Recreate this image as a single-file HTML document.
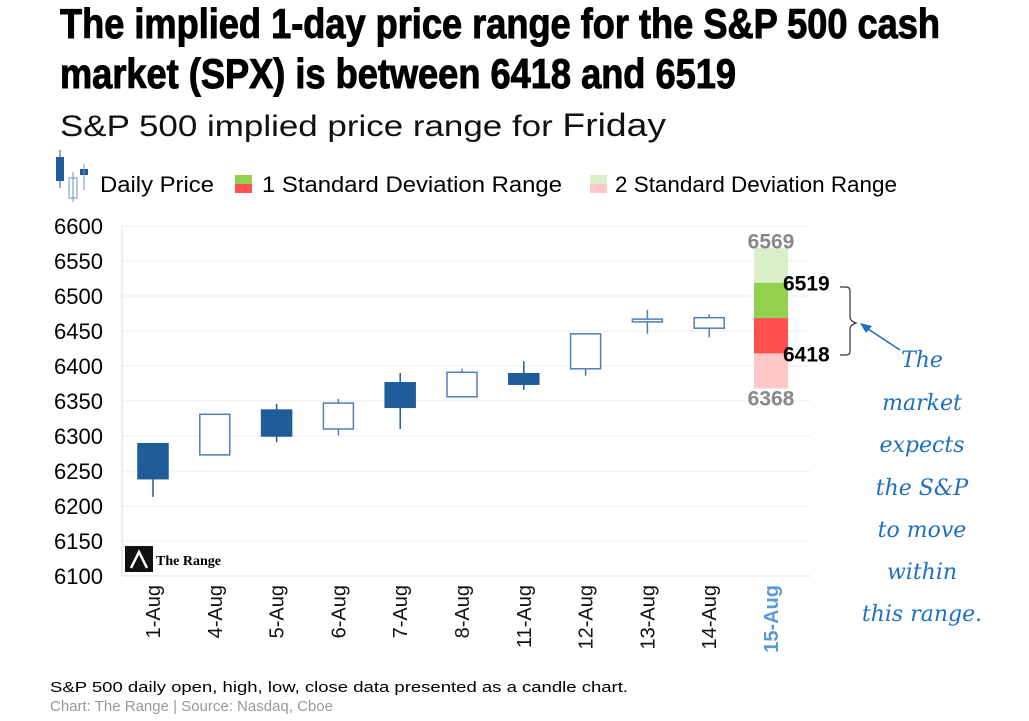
<!DOCTYPE html>
<html><head><meta charset="utf-8"><style>
body{margin:0;width:1029px;height:721px;background:#fff;overflow:hidden;font-family:"Liberation Sans",sans-serif;}
svg{position:absolute;left:0;top:0}
</style></head><body>
<svg width="1029" height="721">
<text x="60" y="38" font-family="Liberation Sans Narrow, Liberation Sans, sans-serif" font-weight="bold" font-size="42" stroke="#000" stroke-width="1" textLength="880" lengthAdjust="spacingAndGlyphs">The implied 1-day price range for the S&amp;P 500 cash</text>
<text x="60" y="88" font-family="Liberation Sans Narrow, Liberation Sans, sans-serif" font-weight="bold" font-size="42" stroke="#000" stroke-width="1" textLength="676" lengthAdjust="spacingAndGlyphs">market (SPX) is between 6418 and 6519</text>
<text x="60" y="136" font-size="30" fill="#111" textLength="606" lengthAdjust="spacingAndGlyphs">S&amp;P 500 implied price range for <tspan font-size="32">Friday</tspan></text>
<g>
<rect x="56" y="157" width="8" height="24" fill="#1f5c99"/><line x1="60" y1="150" x2="60" y2="188" stroke="#1f5c99"/>
<rect x="69" y="178" width="8" height="20" fill="#fff" stroke="#6a93c0"/><line x1="73" y1="172" x2="73" y2="202" stroke="#6a93c0"/>
<rect x="80" y="169" width="8" height="6" fill="#1f5c99"/><line x1="84" y1="164" x2="84" y2="190" stroke="#6a93c0"/>
<text x="100" y="192" font-size="22" textLength="114" lengthAdjust="spacingAndGlyphs">Daily Price</text>
<rect x="235" y="175" width="17" height="9" fill="#92d050"/><rect x="235" y="184" width="17" height="9" fill="#ff5050"/>
<text x="262" y="192" font-size="22" textLength="300" lengthAdjust="spacingAndGlyphs">1 Standard Deviation Range</text>
<rect x="590" y="175" width="17" height="9" fill="#d8efc8"/><rect x="590" y="184" width="17" height="9" fill="#ffc7c7"/>
<text x="615" y="192" font-size="22" textLength="282" lengthAdjust="spacingAndGlyphs">2 Standard Deviation Range</text>
</g>
<g id="grid"></g><g id="yaxis"></g><g id="xaxis"></g><g id="candles"></g><g id="range"></g>
<g>
<rect x="125" y="546" width="28" height="26" fill="#111"/><path d="M131 568 L139 552 L147 568" stroke="#fff" stroke-width="2.5" fill="none"/>
<text x="156" y="565" font-family="Liberation Serif,serif" font-weight="bold" font-size="14">The Range</text></g>
<path d="M840 287 h6 q4 0 4 4 v26 q0 4 6 6 q-6 2 -6 6 v22 q0 4 -4 4 h-6" stroke="#333" stroke-width="1.2" fill="none"/>
<line x1="900" y1="350" x2="865" y2="327" stroke="#1f6fc1" stroke-width="1.5"/>
<path d="M860 323 L872 326 L866 333 Z" fill="#1f6fc1"/>
<g font-family="DejaVu Serif,serif" font-style="italic" font-size="22" fill="#1f6fc1" text-anchor="middle">
<text x="922" y="367">The</text><text x="922" y="410">market</text><text x="922" y="452">expects</text><text x="922" y="495">the S&amp;P</text><text x="922" y="537">to move</text><text x="922" y="579">within</text><text x="922" y="621">this range.</text></g>
<text x="50" y="692" font-size="15" textLength="578" lengthAdjust="spacingAndGlyphs">S&amp;P 500 daily open, high, low, close data presented as a candle chart.</text>
<text x="50" y="711" font-size="15" fill="#999">Chart: The Range | Source: Nasdaq, Cboe</text>
</svg>
<script>
const categories=["1-Aug","4-Aug","5-Aug","6-Aug","7-Aug","8-Aug","11-Aug","12-Aug","13-Aug","14-Aug","15-Aug"];
const opens=[6289,6273,6337,6310,6376,6356,6389,6396,6463,6454];
const highs=[6289,6331,6346,6353,6390,6396,6407,6446,6480,6474];
const lows=[6213,6273,6291,6301,6310,6356,6366,6386,6446,6441];
const closes=[6239,6331,6300,6347,6341,6391,6374,6446,6467,6469];
const yTicks=[6100,6150,6200,6250,6300,6350,6400,6450,6500,6550,6600];
const rangeLevels=[6368,6418,6519,6569];
const NS="http://www.w3.org/2000/svg";
const y=v=>226+(6600-v)*0.7;
const x=i=>153+i*61.8;
function mk(p,t,a){const e=document.createElementNS(NS,t);for(const k in a)e.setAttribute(k,a[k]);document.getElementById(p).appendChild(e);return e;}
yTicks.forEach(v=>{
 const g=mk('grid','line',{x1:122,x2:810,y1:y(v),y2:y(v),stroke:v===6100?'#ddd':'#eee'});
 
 
 const t=mk('yaxis','text',{x:103,y:y(v)+8,'font-size':22,'text-anchor':'end'});t.textContent=v;
 
 
});
mk('grid','line',{x1:122,x2:122,y1:226,y2:576,stroke:'#ddd'});
categories.forEach((c,i)=>{
 const last=i===categories.length-1;
 const t=mk('xaxis','text',{transform:`translate(${x(i)+7},585) rotate(-90)`,'font-size':20,'text-anchor':'end',fill:last?'#5b9bd5':'#111','font-weight':last?'bold':'normal'});t.textContent=c;
 
 
});
opens.forEach((o,i)=>{
 const c=closes[i],down=c<o,cx=x(i),top=Math.max(o,c),bot=Math.min(o,c);
 const col=down?'#1f5c99':'#4f7fb5';
 const w=mk('candles','line',{x1:cx,x2:cx,y1:y(highs[i]),y2:y(lows[i]),stroke:col,'stroke-width':1.5});
 
 
 const b=mk('candles','rect',{x:cx-15,y:y(top),width:30,height:Math.max(1,y(bot)-y(top)),fill:down?'#1f5c99':'#fff',stroke:col,'stroke-width':1.5});
 
 
});
const rx=x(10)-17,cols=['#ffc7c7','#ff5050','#92d050','#d8efc8'];
const mids=[(rangeLevels[0]+rangeLevels[1])/2,(rangeLevels[1]+rangeLevels[2])/2];
const segs=[[rangeLevels[0],rangeLevels[1]],[rangeLevels[1],mids[1]],[mids[1],rangeLevels[2]],[rangeLevels[2],rangeLevels[3]]];
segs.forEach((s,i)=>{
 const r=mk('range','rect',{x:rx,y:y(s[1]),width:34,height:y(s[0])-y(s[1]),fill:cols[i]});
 
 
});
[[rangeLevels[3],x(10),y(rangeLevels[3])+1,'#888','middle'],[rangeLevels[0],x(10),y(rangeLevels[0])+17,'#888','middle'],[rangeLevels[2],rx+29,y(rangeLevels[2])+8,'#000','start'],[rangeLevels[1],rx+29,y(rangeLevels[1])+8,'#000','start']].forEach(a=>{
 const t=mk('range','text',{x:a[1],y:a[2],fill:a[3],'text-anchor':a[4],'font-size':21,'font-weight':'bold'});t.textContent=a[0];
 
 
});
</script>
</body></html>
